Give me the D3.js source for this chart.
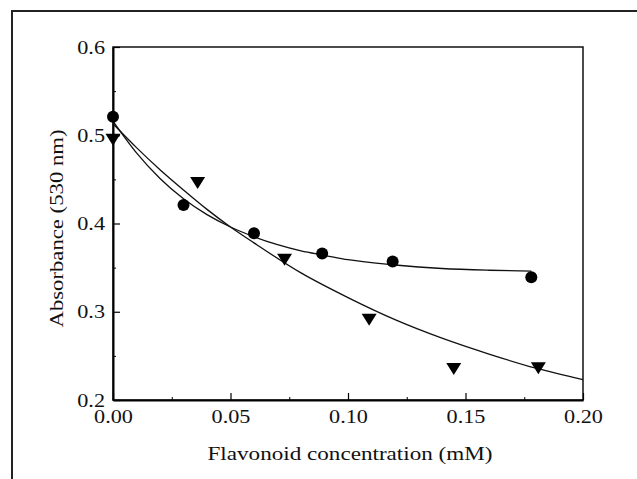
<!DOCTYPE html>
<html>
<head>
<meta charset="utf-8">
<script src="https://cdn.jsdelivr.net/npm/d3@7"></script>
<style>
    body { margin: 0; background: #fff; }
    text { font-family: "Liberation Serif", "Times New Roman", serif; fill: #111; }
</style>
</head>
<body>
<div id="chart"></div>
<script>
// measured points
var circleX = [0, 0.030, 0.060, 0.089, 0.119, 0.178];
var circleY = [0.521, 0.421, 0.389, 0.366, 0.357, 0.339];
var triX = [0, 0.036, 0.073, 0.109, 0.145, 0.181];
var triY = [0.495, 0.446, 0.359, 0.291, 0.235, 0.236];

// fitted curves
var fitCircleX = [0, 0.01, 0.02, 0.03, 0.04, 0.05, 0.06, 0.07, 0.08, 0.09, 0.10, 0.12, 0.14, 0.16, 0.178];
var fitCircleY = [0.516, 0.480, 0.451, 0.428, 0.410, 0.396, 0.385, 0.376, 0.369, 0.364, 0.359, 0.353, 0.349, 0.347, 0.346];
var fitTriX = [0, 0.01, 0.02, 0.03, 0.04, 0.05, 0.06, 0.08, 0.10, 0.12, 0.14, 0.16, 0.18, 0.20];
var fitTriY = [0.513, 0.486, 0.461, 0.438, 0.416, 0.396, 0.378, 0.344, 0.316, 0.291, 0.270, 0.252, 0.236, 0.223];

var xTicks = [0, 0.05, 0.10, 0.15, 0.20];
var yTicks = [0.2, 0.3, 0.4, 0.5, 0.6];
var xTitle = "Flavonoid concentration (mM)";
var yTitle = "Absorbance (530 nm)";

var W = 637, H = 479;
var margin = {top: 47, right: 54, bottom: 79, left: 113};
var width = W - margin.left - margin.right;
var height = H - margin.top - margin.bottom;
var stretch = 1.17;

var root = d3.select("#chart").append("svg")
    .attr("width", W)
    .attr("height", H);

// outer frame (only left and top edges are visible)
root.append("path")
    .attr("d", "M12," + H + "V11H" + W)
    .attr("fill", "none")
    .attr("stroke", "#222")
    .attr("stroke-width", 2);

var svg = root.append("g")
    .attr("transform", "translate(" + margin.left + "," + margin.top + ")");

var x = d3.scaleLinear().domain([0, 0.2]).range([0, width]);
var y = d3.scaleLinear().domain([0.2, 0.6]).range([height, 0]);

// frame of plot
svg.append("rect")
    .attr("width", width)
    .attr("height", height)
    .attr("fill", "none")
    .attr("stroke", "#111")
    .attr("stroke-width", 1.5);

// minor ticks
svg.append("g")
    .attr("transform", "translate(0," + height + ")")
    .call(d3.axisTop(x).tickValues([0.025, 0.075, 0.125, 0.175]).tickSize(3).tickFormat(""))
    .call(g => g.select(".domain").remove());
svg.append("g")
    .call(d3.axisRight(y).tickValues([0.25, 0.35, 0.45, 0.55]).tickSize(3).tickFormat(""))
    .call(g => g.select(".domain").remove());

// X axis
var gx = svg.append("g")
    .attr("transform", "translate(0," + height + ")")
    .call(d3.axisBottom(x).tickValues(xTicks).tickSizeInner(-7).tickSizeOuter(0).tickFormat(d3.format(".2f")));
gx.select(".domain").attr("stroke-width", 2);
gx.selectAll(".tick line").attr("stroke-width", 1.2);
gx.selectAll(".tick text")
    .attr("y", 10)
    .attr("dy", "0.71em")
    .attr("transform", "scale(" + stretch + ",1)")
    .style("font-size", "19px");

// Y axis
var gy = svg.append("g")
    .call(d3.axisLeft(y).tickValues(yTicks).tickSizeInner(-7).tickSizeOuter(0).tickFormat(d3.format(".1f")));
gy.select(".domain").attr("stroke-width", 2);
gy.selectAll(".tick line").attr("stroke-width", 1.2);
gy.selectAll(".tick text")
    .attr("x", -8 / stretch)
    .attr("transform", "scale(" + stretch + ",1)")
    .style("font-size", "19px");

// axis titles
svg.append("text")
    .attr("x", width / 2 + 2)
    .attr("y", height + 60)
    .attr("text-anchor", "middle")
    .attr("textLength", 285)
    .attr("lengthAdjust", "spacingAndGlyphs")
    .style("font-size", "18px")
    .text(xTitle);

svg.append("text")
    .attr("transform", "translate(-50," + (height / 2 + 5) + ") rotate(-90)")
    .attr("text-anchor", "middle")
    .attr("textLength", 198)
    .attr("lengthAdjust", "spacingAndGlyphs")
    .style("font-size", "18px")
    .text(yTitle);

// fit curves
var line = d3.line()
    .x(d => x(d[0]))
    .y(d => y(d[1]))
    .curve(d3.curveMonotoneX);

svg.append("path")
    .datum(fitCircleX.map((v, i) => [v, fitCircleY[i]]))
    .attr("d", line)
    .attr("fill", "none")
    .attr("stroke", "#111")
    .attr("stroke-width", 1.3);

svg.append("path")
    .datum(fitTriX.map((v, i) => [v, fitTriY[i]]))
    .attr("d", line)
    .attr("fill", "none")
    .attr("stroke", "#111")
    .attr("stroke-width", 1.3);

// markers
svg.selectAll(".dot")
    .data(circleX.map((v, i) => [v, circleY[i]]))
    .enter()
    .append("circle")
    .attr("class", "dot")
    .attr("cx", d => x(d[0]))
    .attr("cy", d => y(d[1]))
    .attr("r", 6)
    .attr("fill", "#000");

svg.selectAll(".tri")
    .data(triX.map((v, i) => [v, triY[i]]))
    .enter()
    .append("path")
    .attr("class", "tri")
    .attr("d", "M-7.5,-6L7.5,-6L0,6Z")
    .attr("transform", d => "translate(" + x(d[0]) + "," + y(d[1]) + ")")
    .attr("fill", "#000");
</script>
</body>
</html>
